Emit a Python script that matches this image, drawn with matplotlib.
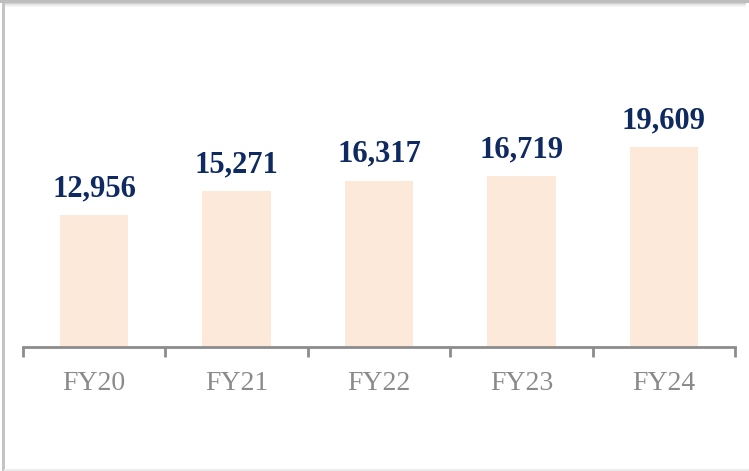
import matplotlib
matplotlib.use("Agg")
import matplotlib.pyplot as plt
from matplotlib.patches import Rectangle

categories = ["FY20", "FY21", "FY22", "FY23", "FY24"]
values = [12956, 15271, 16317, 16719, 19609]

fig = plt.figure(figsize=(7.49, 4.71), dpi=100)
fig.patch.set_facecolor("white")

W, H = 749, 471
def fx(px): return px / W
def fy(py): return 1 - py / H

# Frame with shadow
for i, a in enumerate([0.55, 0.35, 0.2, 0.1]):
    fig.patches.append(Rectangle((fx(3), fy(4 + i)), fx(746 - 3), fy(3 + i) - fy(4 + i),
                                 transform=fig.transFigure, color="#b0b0b0", alpha=a, lw=0))
fig.patches.append(Rectangle((0, fy(3)), 1, 1 - fy(3), transform=fig.transFigure,
                             color="#bdbdbd", lw=0))
fig.patches.append(Rectangle((fx(2), 0), fx(3), fy(3), transform=fig.transFigure,
                             color="#c4c4c4", lw=0))
fig.patches.append(Rectangle((fx(4), 0), 1, fy(469), transform=fig.transFigure,
                             color="#ececec", lw=0))

ax = fig.add_axes([fx(23), fy(347), fx(735) - fx(23), fy(92) - fy(347)])
ax.set_facecolor("none")
x = list(range(len(categories)))
ax.bar(x, values, width=0.48, color="#FDE9DA", zorder=2)
ax.set_xlim(-0.5, len(categories) - 0.5)
ax.set_ylim(0, 25000)

for xi, v in zip(x, values):
    ax.annotate(f"{v:,}", (xi, v), xytext=(0, 13.5), textcoords="offset points",
                ha="center", va="baseline", fontsize=22, fontweight="bold",
                color="#0E2A61", family="Liberation Serif")

for s in ["top", "right", "left"]:
    ax.spines[s].set_visible(False)
ax.spines["bottom"].set_color("#8c8c8c")
ax.spines["bottom"].set_linewidth(2)
ax.set_yticks([])
ax.set_xticks([i - 0.5 for i in range(len(categories) + 1)], minor=False)
ax.set_xticklabels([])
ax.tick_params(axis="x", which="major", direction="out", length=7, width=2, color="#8c8c8c")
ax.set_xticks(x, minor=True)
ax.set_xticklabels(categories, minor=True)
ax.tick_params(axis="x", which="minor", length=0, pad=17, labelsize=20, labelcolor="#8a8a8a")
for lab in ax.get_xticklabels(minor=True):
    lab.set_family("Liberation Serif")

fig.savefig("out.png", dpi=100, facecolor="white")
